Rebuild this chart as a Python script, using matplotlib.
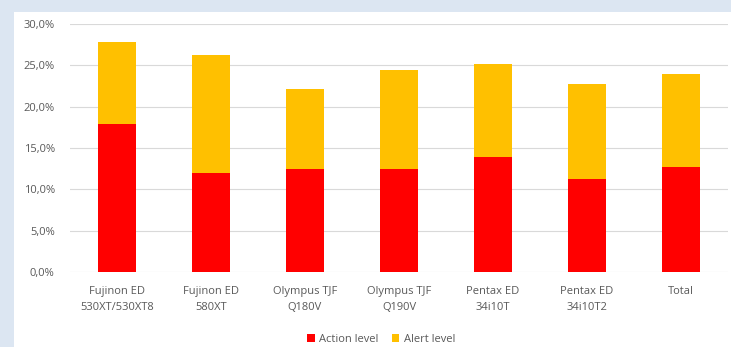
import matplotlib
matplotlib.use("Agg")
import matplotlib.pyplot as plt
from matplotlib.ticker import FuncFormatter, MultipleLocator

categories = ["Fujinon ED\n530XT/530XT8", "Fujinon ED\n580XT", "Olympus TJF\nQ180V",
              "Olympus TJF\nQ190V", "Pentax ED\n34i10T", "Pentax ED\n34i10T2", "Total"]
action_level = [17.9, 12.0, 12.5, 12.5, 13.9, 11.3, 12.7]
alert_level = [9.9, 14.2, 9.6, 11.9, 11.3, 11.4, 11.2]

plt.rcParams['font.family'] = ['Open Sans', 'DejaVu Sans']

fig = plt.figure(figsize=(7.31, 3.47), dpi=100)
fig.patch.set_facecolor("#DCE6F2")
bg = fig.add_axes([14/731, 0, 1 - 14/731, 1 - 12/347], zorder=0)
bg.set_axis_off()
bg.add_patch(plt.Rectangle((0, 0), 1, 1, transform=bg.transAxes, facecolor="white", edgecolor="none"))

ax = fig.add_axes([70/731, 75/347, 658/731, 248/347], zorder=2)
ax.set_facecolor("none")
x = range(len(categories))
ax.bar(x, action_level, width=0.4, color="#FF0000", label="Action level", zorder=2)
ax.bar(x, alert_level, width=0.4, bottom=action_level, color="#FFC000", label="Alert level", zorder=2)

ax.set_xlim(-0.5, len(categories) - 0.5)
ax.set_ylim(0, 30)
ax.yaxis.set_major_locator(MultipleLocator(5))
ax.yaxis.set_major_formatter(FuncFormatter(lambda v, p: f"{v:.1f}%".replace(".", ",")))
ax.grid(axis="y", color="#D9D9D9", linewidth=0.8, zorder=0)
for s in ax.spines.values():
    s.set_visible(False)
ax.tick_params(axis="both", length=0, colors="#595959", labelsize=8)
ax.tick_params(axis="y", pad=11)
ax.tick_params(axis="x", pad=10)
ax.set_xticks(list(x))
ax.set_xticklabels(categories, linespacing=1.7)

leg = fig.legend(loc="center", bbox_to_anchor=(381/731, 1 - 339/347), ncol=2, frameon=False,
                 fontsize=8, labelcolor="#595959", handlelength=0.7, handleheight=0.7,
                 handletextpad=0.4, columnspacing=1.2)
leg.set_zorder(3)

fig.savefig("out.png", dpi=100)
